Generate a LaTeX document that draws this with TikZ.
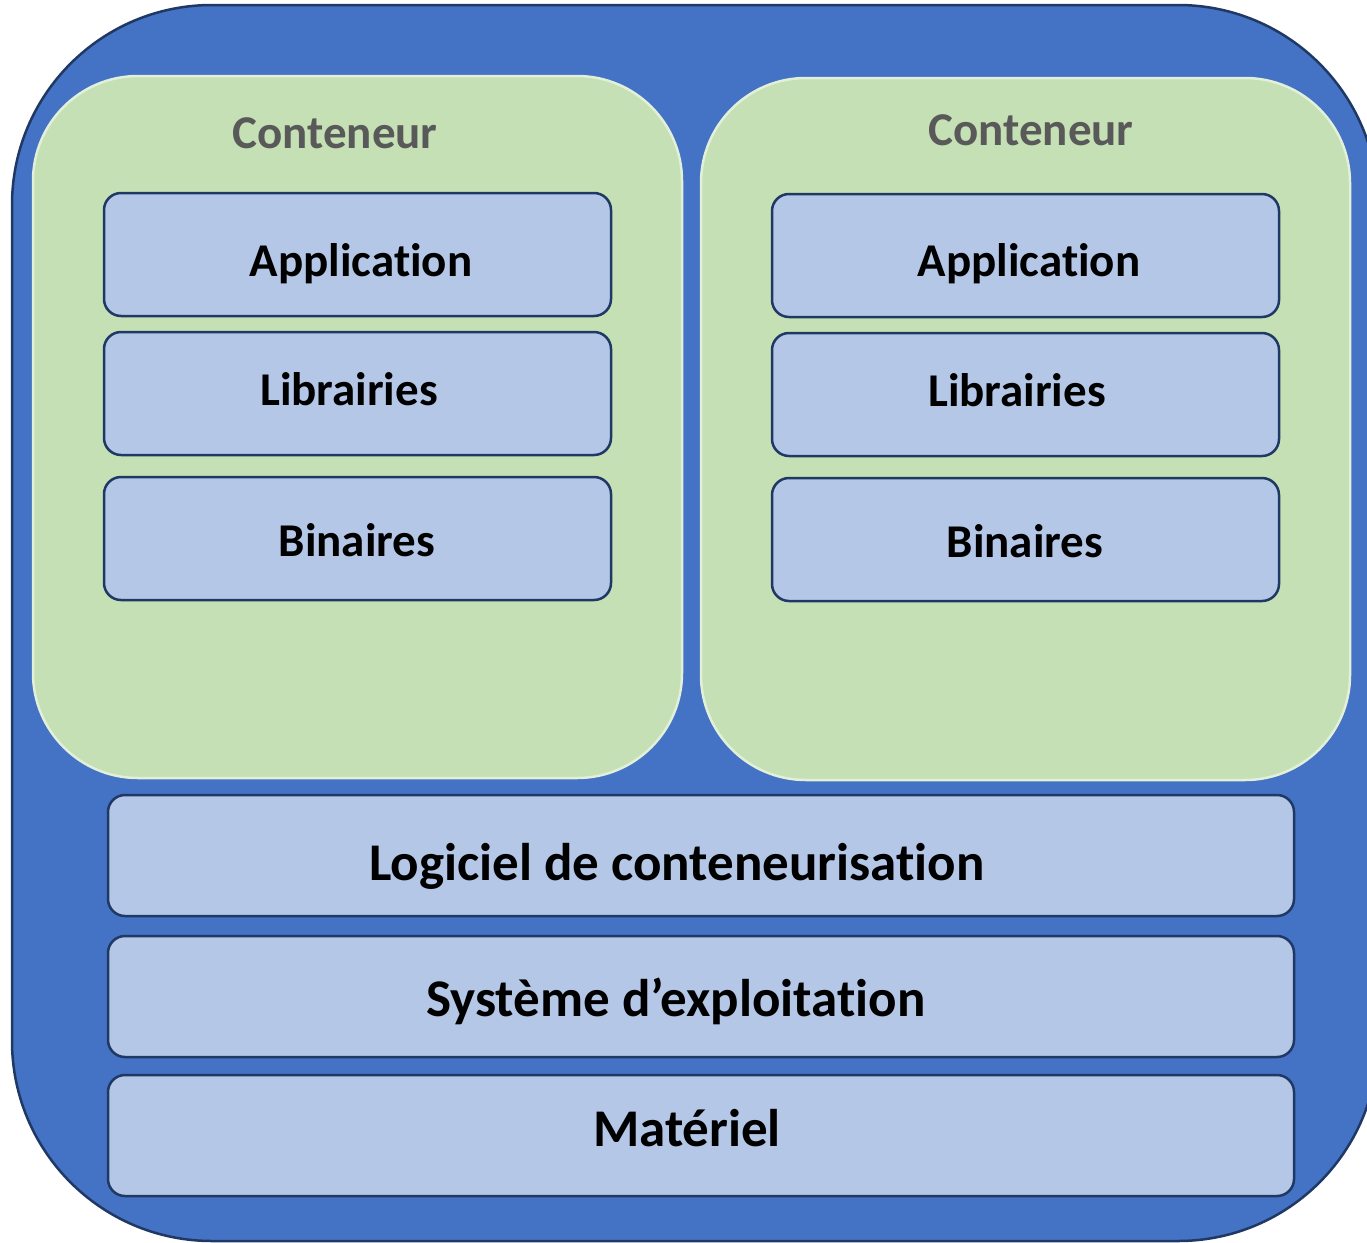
\documentclass[tikz,border=0pt]{standalone}
\usepackage{fontspec}
\setmainfont{Carlito}[Ligatures={NoCommon,NoRare,NoContextual}]
\definecolor{outerblue}{HTML}{4472C4}
\definecolor{navy}{HTML}{1F3864}
\definecolor{layerblue}{HTML}{B4C7E7}
\definecolor{contgreen}{HTML}{C5E0B4}
\definecolor{contedge}{HTML}{E2F0D9}
\definecolor{greytext}{HTML}{595959}
\begin{document}
\begin{tikzpicture}[x=1pt,y=-1pt,
  outerbox/.style={draw=navy, line width=2.5pt, fill=outerblue, rounded corners=200pt},
  container/.style={rectangle, draw=contedge, line width=2.5pt, fill=contgreen, rounded corners=105pt, inner sep=0pt},
  layer/.style={rectangle, draw=navy, line width=2.5pt, fill=layerblue, rounded corners=17pt, inner sep=0pt},
  smalllayer/.style={layer, minimum width=507pt, minimum height=123pt},
  biglayer/.style={layer, minimum width=1186pt, minimum height=121pt},
  ctitle/.style={anchor=base, inner sep=0pt, text=greytext, font=\fontsize{47}{56}\selectfont\bfseries},
  ltext/.style={anchor=base, inner sep=0pt, text=black, font=\fontsize{47}{56}\selectfont\bfseries},
  btext/.style={anchor=base, inner sep=0pt, text=black, font=\fontsize{53}{62}\selectfont\bfseries}
]
\useasboundingbox (0,0) rectangle (1367,1242);
\clip (0,0) rectangle (1367,1242);
\draw[outerbox] (12,5) rectangle (1378,1241);

% containers
\node[container, minimum width=649pt, minimum height=702pt] (c1) at (357.5,427) {};
\node[container, minimum width=649pt, minimum height=702pt] (c2) at (1025.5,429) {};

% left container layers
\node[smalllayer] (app1) at (357.5,254.5) {};
\node[smalllayer] (lib1) at (357.5,393.5) {};
\node[smalllayer] (bin1) at (357.5,538.5) {};
% right container layers
\node[smalllayer] (app2) at (1025.5,255.5) {};
\node[smalllayer] (lib2) at (1025.5,394.5) {};
\node[smalllayer] (bin2) at (1025.5,539.5) {};

% bottom layers
\node[biglayer] (logi) at (701,855.5) {};
\node[biglayer] (sys) at (701,996.5) {};
\node[biglayer] (mat) at (701,1135.5) {};

% texts
\node[ctitle] (t1) at (335,148) {Conteneur};
\node[ctitle] (t2) at (1031,145) {Conteneur};
\node[ltext] (ta1) at (361,276) {Application};
\node[ltext] (tl1) at (349,405) {Librairies};
\node[ltext] (tb1) at (357,556) {Binaires};
\node[ltext] (ta2) at (1029,276) {Application};
\node[ltext] (tl2) at (1017,406) {Librairies};
\node[ltext] (tb2) at (1025,557) {Binaires};
\node[btext] (tlog) at (677,880) {Logiciel de conteneurisation};
\node[btext] (tsys) at (676,1016) {Système d’exploitation};
\node[btext] (tmat) at (687,1146) {Matériel};
\end{tikzpicture}
\end{document}
